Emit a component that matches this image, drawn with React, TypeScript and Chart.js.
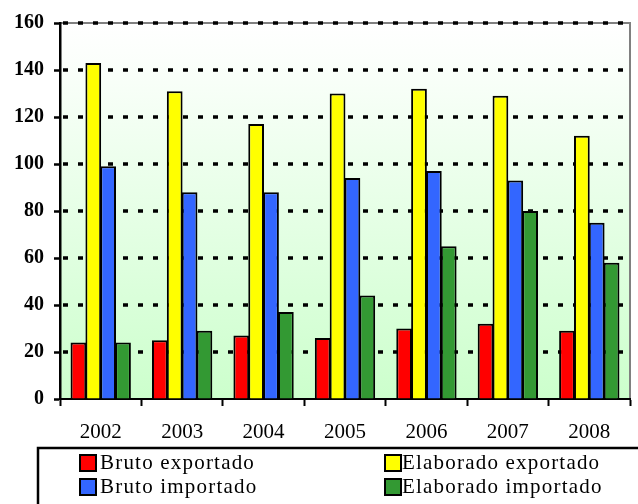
import React, { useEffect, useRef } from "react";
import { Chart, registerables } from "chart.js";

Chart.register(...registerables);

const categories = ["2002", "2003", "2004", "2005", "2006", "2007", "2008"];
const brutoExportado = [24, 25, 27, 26, 30, 32, 29];
const elaboradoExportado = [143, 131, 117, 130, 132, 129, 112];
const brutoImportado = [99, 88, 88, 94, 97, 93, 75];
const elaboradoImportado = [24, 29, 37, 44, 65, 80, 58];
const seriesNames = ["Bruto exportado", "Elaborado exportado", "Bruto importado", "Elaborado importado"];
const seriesColors = ["#FF0000", "#FFFF00", "#3366FF", "#339933"];
const yMin = 0;
const yMax = 160;
const yStep = 20;

const FONT = "'Liberation Serif', 'Times New Roman', serif";

const decorPlugin = {
  id: "decor",
  beforeDraw(chart: any) {
    const { ctx, chartArea: a } = chart;
    ctx.save();
    ctx.fillStyle = "#ffffff";
    ctx.fillRect(0, 0, chart.width, chart.height);
    const g = ctx.createLinearGradient(0, a.top, 0, a.bottom);
    g.addColorStop(0, "#ffffff");
    g.addColorStop(0.1, "#fbfffb");
    g.addColorStop(1, "#ccffcc");
    ctx.fillStyle = g;
    ctx.fillRect(a.left, a.top, a.right - a.left, a.bottom - a.top);
    ctx.strokeStyle = "#808080";
    ctx.lineWidth = 2;
    ctx.beginPath();
    ctx.moveTo(a.left, a.top);
    ctx.lineTo(a.right, a.top);
    ctx.lineTo(a.right, a.bottom);
    ctx.stroke();
    ctx.restore();
  },
  beforeDatasetsDraw(chart: any) {
    const { ctx, chartArea: a } = chart;
    const y = chart.scales.y;
    ctx.save();
    ctx.strokeStyle = "#000000";
    ctx.lineWidth = 3.5;
    ctx.setLineDash([5, 10]);
    y.ticks.forEach((t: any) => {
      if (t.value === yMin) return;
      const py = Math.round(y.getPixelForValue(t.value));
      ctx.beginPath();
      ctx.moveTo(a.left + 3, py);
      ctx.lineTo(a.right - 2, py);
      ctx.stroke();
    });
    ctx.restore();
  },
  afterDraw(chart: any) {
    const { ctx } = chart;
    ctx.save();
    ctx.strokeStyle = "#000000";
    ctx.lineWidth = 2.5;
    ctx.strokeRect(38, 448, 800, 200);
    const pos = [
      { sx: 80, sy: 455, tx: 100, ty: 469 },
      { sx: 385, sy: 455, tx: 402, ty: 469 },
      { sx: 80, sy: 479, tx: 100, ty: 493 },
      { sx: 385, sy: 479, tx: 402, ty: 493 },
    ];
    ctx.font = "21px " + FONT;
    (ctx as any).letterSpacing = "1.2px";
    ctx.textBaseline = "alphabetic";
    ctx.textAlign = "left";
    seriesNames.forEach((name, i) => {
      const p = pos[i];
      ctx.fillStyle = seriesColors[i];
      ctx.fillRect(p.sx, p.sy, 16, 16);
      ctx.lineWidth = 2;
      ctx.strokeStyle = "#000000";
      ctx.strokeRect(p.sx, p.sy, 16, 16);
      ctx.fillStyle = "#000000";
      ctx.fillText(name, p.tx, p.ty);
    });
    ctx.restore();
  },
};

export default function App() {
  const ref = useRef<HTMLCanvasElement | null>(null);

  useEffect(() => {
    if (!ref.current) return;
    const seriesData = [brutoExportado, elaboradoExportado, brutoImportado, elaboradoImportado];
    const chart = new Chart(ref.current, {
      type: "bar",
      data: {
        labels: categories,
        datasets: seriesNames.map((name, i) => ({
          label: name,
          data: seriesData[i],
          backgroundColor: seriesColors[i],
          borderColor: "#000000",
          borderWidth: 2,
          categoryPercentage: 0.73,
          barPercentage: 1.06,
        })),
      },
      options: {
        responsive: false,
        animation: false,
        devicePixelRatio: 1,
        layout: { padding: { top: 23, right: 8, left: 0, bottom: 57 } },
        plugins: {
          legend: { display: false },
          tooltip: { enabled: false },
        },
        scales: {
          x: {
            offset: true,
            grid: {
              offset: true,
              drawOnChartArea: false,
              drawTicks: true,
              tickLength: 7,
              tickColor: "#000000",
              tickWidth: 2,
            },
            border: { display: true, color: "#000000", width: 2 },
            ticks: {
              color: "#000000",
              font: { family: FONT, size: 21 },
              padding: 14,
            },
            afterFit(scale: any) {
              scale.height = 48;
            },
          },
          y: {
            min: yMin,
            max: yMax,
            grid: {
              drawOnChartArea: false,
              drawTicks: true,
              tickLength: 6,
              tickColor: "#000000",
              tickWidth: 2.5,
            },
            border: { display: true, color: "#000000", width: 2.5 },
            ticks: {
              stepSize: yStep,
              color: "#000000",
              font: { family: FONT, size: 20, weight: "bold" },
              padding: 10,
            },
            afterFit(scale: any) {
              scale.width = 60;
            },
          },
        },
      },
      plugins: [decorPlugin],
    });
    return () => chart.destroy();
  }, []);

  return (
    <div style={{ position: "absolute", left: 0, top: 0, width: 638, height: 504, background: "#fff" }}>
      <canvas ref={ref} width={638} height={504} style={{ display: "block", width: 638, height: 504 }} />
    </div>
  );
}
